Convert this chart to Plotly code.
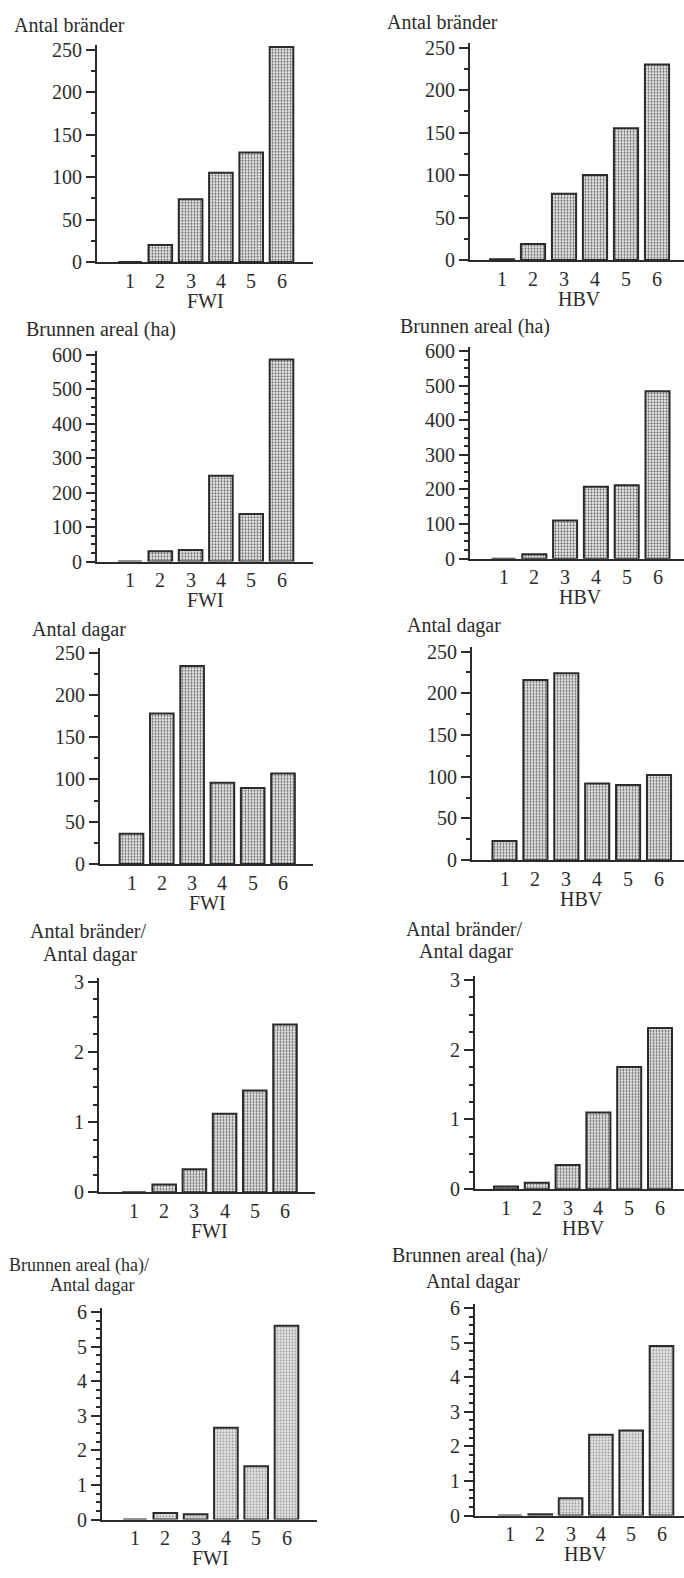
import plotly.graph_objects as go

W, H = 684, 1578

categories = [1, 2, 3, 4, 5, 6]

fwi_brander = [0, 20, 74, 105, 129, 253]
hbv_brander = [1, 19, 78, 100, 155, 230]
fwi_areal = [0, 30, 34, 249, 138, 587]
hbv_areal = [0, 13, 110, 208, 212, 484]
fwi_dagar = [36, 178, 234, 96, 90, 107]
hbv_dagar = [23, 216, 224, 92, 90, 102]
fwi_brander_per_dag = [0, 0.11, 0.33, 1.12, 1.45, 2.39]
hbv_brander_per_dag = [0.04, 0.095, 0.35, 1.10, 1.75, 2.31]
fwi_areal_per_dag = [0, 0.19, 0.15, 2.65, 1.54, 5.6]
hbv_areal_per_dag = [0, 0.04, 0.5, 2.34, 2.46, 4.9]

ytitle_brander = ["Antal bränder"]
ytitle_areal = ["Brunnen areal (ha)"]
ytitle_dagar = ["Antal dagar"]
ytitle_br_dag = ["Antal bränder/", "Antal dagar"]
ytitle_ar_dag = ["Brunnen areal (ha)/", "Antal dagar"]

panels = [
    # values, index name, title lines, ymax, dtick, minor
    (fwi_brander, "FWI", ytitle_brander, 250, 50, 25),
    (hbv_brander, "HBV", ytitle_brander, 250, 50, 25),
    (fwi_areal, "FWI", ytitle_areal, 600, 100, 25),
    (hbv_areal, "HBV", ytitle_areal, 600, 100, 25),
    (fwi_dagar, "FWI", ytitle_dagar, 250, 50, 25),
    (hbv_dagar, "HBV", ytitle_dagar, 250, 50, 25),
    (fwi_brander_per_dag, "FWI", ytitle_br_dag, 3, 1, 0.25),
    (hbv_brander_per_dag, "HBV", ytitle_br_dag, 3, 1, 0.25),
    (fwi_areal_per_dag, "FWI", ytitle_ar_dag, 6, 1, 0.25),
    (hbv_areal_per_dag, "HBV", ytitle_ar_dag, 6, 1, 0.25),
]

# pixel geometry: axis_x, first category centre, spacing, axis end, y zero, y top tick
geom = [
    (97, 130, 30.3, 313, 258, 43),
    (470, 502, 31.0, 684, 256, 41),
    (97, 130, 30.3, 313, 561, 352),
    (470, 503.5, 30.8, 684, 558, 348),
    (100, 131.5, 30.3, 313, 867, 653),
    (472, 504.5, 30.9, 684, 863, 652),
    (99, 134, 30.2, 315, 1199, 986),
    (475, 506, 30.8, 684, 1196, 984),
    (102, 135, 30.3, 317, 1530, 1320),
    (475, 510, 30.3, 684, 1526, 1316),
]

# title positions: list of (x_left, y_center, font size) per line
title_pos = [
    [(12, 18, 20)],
    [(385, 15, 20)],
    [(24, 326, 20)],
    [(398, 323, 20)],
    [(30, 630, 20)],
    [(405, 626, 20)],
    [(28, 935, 20), (41, 958, 20)],
    [(404, 933, 20), (417, 955, 20)],
    [(7, 1273, 18), (48, 1293, 18)],
    [(390, 1263, 20), (424, 1289, 20)],
]

FONT = "Liberation Serif"
INK = "#2b2b2b"
OVER = 1.02  # axis line runs slightly above top tick

fig = go.Figure()
layout = dict(
    width=W, height=H, margin=dict(l=0, r=0, t=0, b=0),
    paper_bgcolor="white", plot_bgcolor="rgba(0,0,0,0)",
    showlegend=False,
    font=dict(family=FONT, size=20, color=INK),
)
annotations = []

for i, ((vals, idx, tlines, ymax, dtick, minor), g) in enumerate(zip(panels, geom)):
    ax_x, c1, sp, end, y0, ytop = g
    n = i + 1
    xa = "x" if n == 1 else f"x{n}"
    ya = "y" if n == 1 else f"y{n}"
    light = i >= 8
    fig.add_trace(go.Bar(
        x=categories, y=vals, xaxis=xa, yaxis=ya, width=0.78,
        marker=dict(
            color="#d6d6d6" if light else "#c8c8c8",
            line=dict(color=INK, width=2),
            pattern=dict(shape=".", size=3, solidity=0.25 if light else 0.33,
                         fgcolor="#8c8c8c" if light else "#5a5a5a",
                         bgcolor="#dedede" if light else "#e8e8e8",
                         fillmode="replace"),
        ),
    ))
    xr = [1 - (c1 - ax_x) / sp, 1 + (end - c1) / sp]
    xkey = "xaxis" if n == 1 else f"xaxis{n}"
    ykey = "yaxis" if n == 1 else f"yaxis{n}"
    top_px = y0 - (y0 - ytop) * OVER
    layout[xkey] = dict(
        domain=[ax_x / W, end / W], range=xr, anchor=ya,
        showline=True, linecolor=INK, linewidth=2, ticks="",
        showticklabels=False, showgrid=False, zeroline=False,
    )
    layout[ykey] = dict(
        domain=[1 - y0 / H, 1 - top_px / H], range=[0, ymax * OVER], anchor=xa,
        showline=True, linecolor=INK, linewidth=2,
        ticks="outside", ticklen=9, tickwidth=2, tickcolor=INK,
        tickvals=[k * dtick for k in range(int(round(ymax / dtick)) + 1)],
        showgrid=False, zeroline=False,
        minor=dict(tickvals=[k * minor for k in range(int(round(ymax / minor)) + 1)],
                   ticks="outside", ticklen=4, tickwidth=1.5, tickcolor=INK, showgrid=False),
        tickfont=dict(family=FONT, size=20, color=INK),
    )
    for line, (tx, ty, fs) in zip(tlines, title_pos[i]):
        annotations.append(dict(
            text=line, x=tx / W, y=1 - ty / H, xref="paper", yref="paper",
            xanchor="left", yanchor="middle", showarrow=False,
            font=dict(family=FONT, size=fs, color=INK),
        ))
    # category labels under the axis
    for c in categories:
        annotations.append(dict(
            text=str(c), x=c, y=1 - (y0 + 19) / H, xref=xa, yref="paper",
            xanchor="center", yanchor="middle", showarrow=False,
            font=dict(family=FONT, size=20, color=INK),
        ))
    xl = c1 + 2.5 * sp
    annotations.append(dict(
        text=idx, x=xl / W, y=1 - (y0 + 39) / H, xref="paper", yref="paper",
        xanchor="center", yanchor="middle", showarrow=False,
        font=dict(family=FONT, size=20, color=INK),
    ))

layout["annotations"] = annotations
fig.update_layout(**layout)
fig.write_html("out.html")
